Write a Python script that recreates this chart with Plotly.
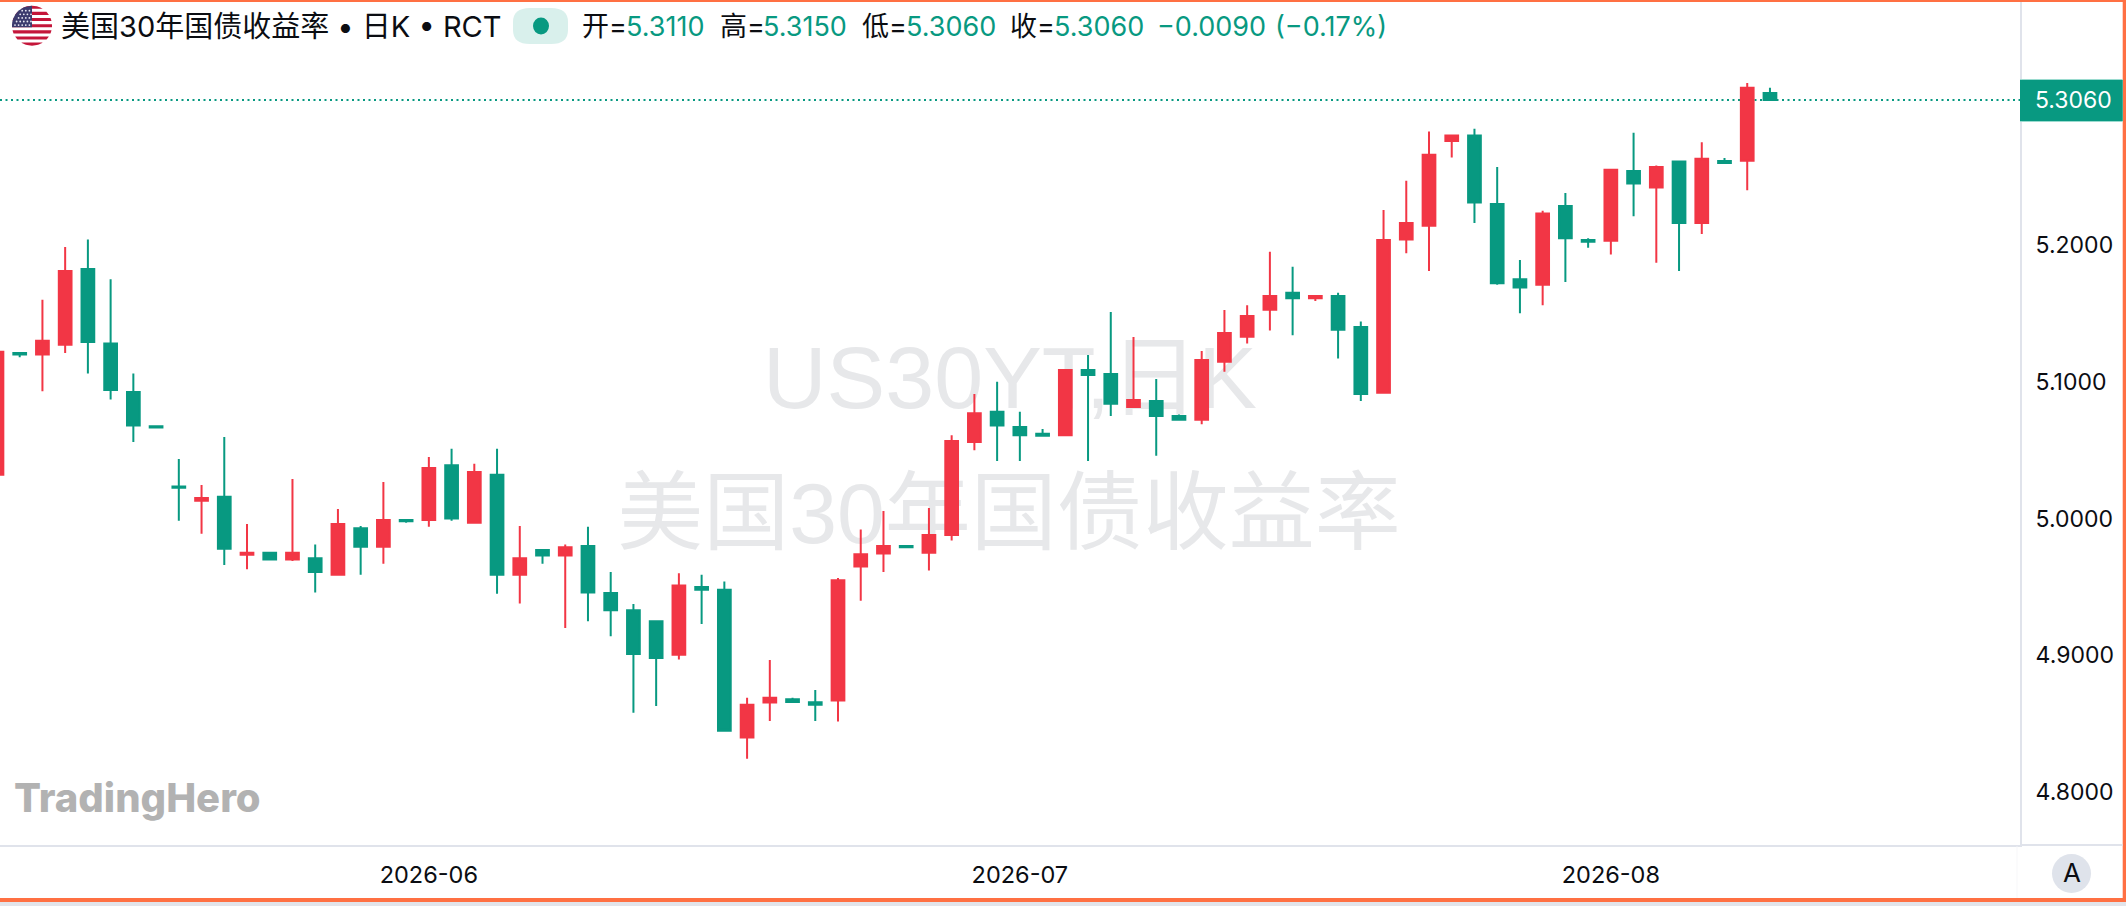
import numpy as np
import plotly.graph_objects as go

# ---------- data ----------
opens = [5.032,5.121,5.120,5.127,5.1825,5.128,5.0925,5.0675,5.0235,5.013,5.016,4.9735,4.975,4.970,4.971,4.959,4.993,4.9795,4.999,4.999,
         5.039,4.997,5.032,4.959,4.977,4.973,4.980,4.9456,4.933,4.925,4.9005,4.950,4.948,4.840,4.8655,4.868,4.8657,4.867,4.965,4.9744,
         4.980,4.975,4.988,5.056,5.078,5.067,5.062,5.061,5.1086,5.1057,5.0816,5.086,5.075,5.0723,5.1147,5.133,5.1527,5.165,5.161,5.1627,
         5.140,5.092,5.204,5.214,5.276,5.280,5.230,5.175,5.171,5.2285,5.2037,5.203,5.254,5.242,5.261,5.216,5.2614,5.2616,5.311]
highs = [5.122,5.121,5.160,5.1985,5.204,5.175,5.106,5.0675,5.0436,5.0246,5.0596,4.996,4.975,5.029,4.981,5.007,4.9946,5.0268,4.999,5.045,
         5.051,5.040,5.051,4.9946,4.977,4.981,4.994,4.961,4.9376,4.925,4.960,4.959,4.954,4.869,4.8966,4.869,4.8747,4.9566,4.992,5.0056,
         4.980,5.0077,5.061,5.091,5.100,5.078,5.0655,5.1086,5.1196,5.151,5.1327,5.102,5.076,5.1225,5.1525,5.156,5.195,5.184,5.1627,5.165,
         5.144,5.2256,5.247,5.283,5.280,5.285,5.257,5.189,5.225,5.238,5.205,5.255,5.282,5.258,5.261,5.275,5.2636,5.3184,5.315]
lows = [5.032,5.118,5.093,5.121,5.106,5.087,5.056,5.0665,4.9985,4.989,4.966,4.963,4.970,4.969,4.946,4.959,4.959,4.967,4.997,4.994,
        4.9985,4.997,4.945,4.938,4.967,4.920,4.925,4.914,4.858,4.863,4.897,4.923,4.845,4.8245,4.852,4.866,4.852,4.8516,4.940,4.961,
        4.979,4.962,4.984,5.050,5.042,5.042,5.060,5.061,5.042,5.075,5.081,5.046,5.0723,5.069,5.1074,5.128,5.1374,5.134,5.159,5.117,
        5.086,5.092,5.194,5.181,5.264,5.216,5.171,5.150,5.156,5.173,5.198,5.193,5.221,5.187,5.181,5.208,5.260,5.240,5.306]
closes = [5.122,5.120,5.130,5.181,5.129,5.094,5.068,5.0665,5.0225,5.015,4.978,4.975,4.970,4.975,4.961,4.996,4.9795,4.999,4.998,5.037,
          5.000,5.034,4.959,4.971,4.973,4.979,4.946,4.933,4.901,4.898,4.951,4.948,4.845,4.864,4.869,4.866,4.864,4.955,4.974,4.980,
          4.979,4.988,5.0567,5.077,5.068,5.061,5.0606,5.1086,5.105,5.084,5.0867,5.075,5.0723,5.116,5.1357,5.148,5.1627,5.161,5.1627,5.138,
          5.091,5.2037,5.216,5.266,5.280,5.231,5.172,5.169,5.223,5.205,5.2024,5.255,5.245,5.257,5.216,5.263,5.260,5.315,5.306]
bar_index = list(range(len(closes)))

price_ticks = [4.8, 4.9, 5.0, 5.1, 5.2]
month_ticks = [19, 45, 71]
month_labels = ["2026-06", "2026-07", "2026-08"]

title_text = "美国30年国债收益率 • 日K • RCT"
watermark_top = "US30YT,日K"
watermark_bottom = "美国30年国债收益率"
brand_text = "TradingHero"
ohlc_labels = ["开=", "高=", "低=", "收="]
ohlc_values = ["5.3110", "5.3150", "5.3060", "5.3060"]
change_text = "−0.0090"
change_pct_text = "(−0.17%)"

# ---------- styling ----------
UP, DOWN = "#F23645", "#089981"
BORDER = "#FF7043"
RULE = "#E0E3EB"
INK = "#0B0D12"
FONT = "Inter, Noto Sans CJK SC, sans-serif"
WM_FONT = "Liberation Sans, Noto Sans CJK SC, sans-serif"
W, H = 2126, 906
PL, PR, PT, PB = 0, 2020, 2, 845


def X(px):
    return (px - PL) / (PR - PL)


def Y(py):
    return (PB - py) / (PB - PT)


def rect(x0, y0, x1, y1, color, layer="above", **kw):
    return dict(type="rect", xref="paper", yref="paper", x0=X(x0), x1=X(x1), y0=Y(y0), y1=Y(y1),
                fillcolor=color, line_width=0, layer=layer, **kw)


def note(px, py, text, size=27, color=INK, anchor="left", family=FONT, weight=None):
    font = dict(size=size, color=color, family=family)
    if weight:
        font["weight"] = weight
    return dict(xref="paper", yref="paper", x=X(px), y=Y(py), text=text, showarrow=False,
                xanchor=anchor, yanchor="middle", borderpad=0, font=font)


shapes = [
    rect(0, 0, W, 2, BORDER),
    rect(0, 898, W, 902, BORDER),
    rect(2122.7, 0, W, 902, BORDER),
    rect(0, 902, W, H, "#E2E4EA"),
    rect(2020, 844, 2122.7, 846, RULE),
    rect(2016.6, 846, 2017.4, 898, "#F4F5F8"),
    # last price marker
    dict(type="line", xref="paper", yref="y2", x0=0, x1=1, y0=closes[-1], y1=closes[-1],
         line=dict(color=DOWN, width=2, dash="2px,3.5px"), layer="below"),
    rect(2020, 79, 2122.7, 122, "#9ADBCF"),
    rect(2020, 80, 2122.7, 121, DOWN),
    # status pill
    dict(type="path", xref="paper", yref="paper", fillcolor="#D9F0EC", line_width=0,
         path="M {} {} L {} {} Q {} {} {} {} L {} {} Q {} {} {} {} L {} {} Q {} {} {} {} L {} {} Q {} {} {} {} Z".format(
             X(530), Y(8), X(551), Y(8), X(568), Y(8), X(568), Y(22), X(568), Y(30), X(568), Y(44), X(551), Y(44),
             X(530), Y(44), X(513), Y(44), X(513), Y(30), X(513), Y(22), X(513), Y(8), X(530), Y(8))),
    dict(type="circle", xref="paper", yref="paper", x0=X(533), x1=X(549), y0=Y(17.5), y1=Y(34.5),
         fillcolor=DOWN, line_width=0),
    # scale badge
    dict(type="circle", xref="paper", yref="paper", x0=X(2052), x1=X(2091), y0=Y(854), y1=Y(893),
         fillcolor="#DFE3EB", line_width=0),
]

# flag badge
cx, cy, r = 32, 25.7, 20
band = 2 * r / 13


def poly(points):
    return "M " + " L ".join(f"{X(a):.6f} {Y(b):.6f}" for a, b in points) + " Z"


for k in range(0, 13, 2):
    ys = np.linspace(cy - r + k * band, cy - r + (k + 1) * band, 6)
    half = np.sqrt(np.maximum(r * r - (ys - cy) ** 2, 0))
    pts = list(zip(cx - half, ys)) + list(zip((cx + half)[::-1], ys[::-1]))
    shapes.append(dict(type="path", xref="paper", yref="paper", path=poly(pts),
                       fillcolor="#C4163A", line_width=0))
ys = np.linspace(cy - r, cy + 1.5, 24)
half = np.sqrt(np.maximum(r * r - (ys - cy) ** 2, 0))
shapes.append(dict(type="path", xref="paper", yref="paper",
                   path=poly(list(zip(cx - half, ys)) + [(cx, cy + 1.5), (cx, cy - r)]),
                   fillcolor="#3C3B6E", line_width=0))
for row in range(5):
    for col in range(5):
        sx = cx - 17 + col * 3.6 + (row % 2) * 1.6
        sy = cy - 15 + row * 3.6
        if (sx - cx) ** 2 + (sy - cy) ** 2 < (r - 2) ** 2 and sx < cx - 0.8:
            shapes.append(dict(type="circle", xref="paper", yref="paper", x0=X(sx - 0.9), x1=X(sx + 0.9),
                               y0=Y(sy - 0.9), y1=Y(sy + 0.9), fillcolor="#E8E8F2", line_width=0))

LY = 26.5
annotations = [
    note(60, LY, title_text, size=29),
    note(581, LY, ohlc_labels[0]), note(625, LY, ohlc_values[0], color=DOWN),
    note(719, LY, ohlc_labels[1]), note(762, LY, ohlc_values[1], color=DOWN),
    note(861, LY, ohlc_labels[2]), note(904.5, LY, ohlc_values[2], color=DOWN),
    note(1009, LY, ohlc_labels[3]), note(1052.5, LY, ohlc_values[3], color=DOWN),
    note(1156, LY, change_text, color=DOWN), note(1274, LY, change_pct_text, color=DOWN),
    note(2073.6, 100, f"{closes[-1]:.4f}", size=23, color="white", anchor="center"),
    note(2071.5, 873, "A", size=26, anchor="center"),
    note(137.5, 797, brand_text, size=40, color="#B2B2B2", anchor="center", weight=800),
]

fig = go.Figure()

# Watermarks live on the base axes (pixel scale) so the candles overlay them.
fig.add_trace(go.Scatter(
    x=[1010, 1009], y=[386, 521], mode="text", text=[watermark_top, watermark_bottom],
    textposition="middle center", hoverinfo="skip", showlegend=False,
    textfont=dict(size=[88, 86], color="#E7E8EA", family=WM_FONT),
    xaxis="x", yaxis="y"))

fig.add_trace(go.Candlestick(
    x=bar_index, open=opens, high=highs, low=lows, close=closes,
    increasing=dict(line=dict(color=UP, width=2), fillcolor=UP),
    decreasing=dict(line=dict(color=DOWN, width=2), fillcolor=DOWN),
    whiskerwidth=0, showlegend=False, xaxis="x2", yaxis="y2"))

fig.update_layout(
    width=W, height=H, autosize=False,
    margin=dict(l=PL, r=W - PR, t=PT, b=H - PB, pad=0),
    paper_bgcolor="white", plot_bgcolor="white",
    font=dict(family=FONT, color=INK),
    showlegend=False, hovermode=False, boxgap=0.2,
    shapes=shapes, annotations=annotations,
    xaxis=dict(range=[PL, PR], visible=False, fixedrange=True),
    yaxis=dict(range=[PB, PT], visible=False, fixedrange=True),
    xaxis2=dict(overlaying="x", anchor="y2", side="bottom", range=[0.1333, 89.0],
                rangeslider=dict(visible=False), showgrid=False, zeroline=False,
                tickmode="array", tickvals=month_ticks, ticktext=month_labels,
                ticks="outside", ticklen=8, tickcolor="rgba(0,0,0,0)",
                tickfont=dict(size=23.5, color=INK),
                showline=True, linecolor=RULE, linewidth=2),
    yaxis2=dict(overlaying="y", anchor="x2", side="right", range=[4.7614, 5.3776],
                showgrid=False, zeroline=False,
                tickmode="array", tickvals=price_ticks, tickformat=".4f",
                ticks="outside", ticklen=9, tickcolor="rgba(0,0,0,0)",
                tickfont=dict(size=23, color=INK),
                showline=True, linecolor=RULE, linewidth=2),
)

fig.write_html("out.html", config=dict(displayModeBar=False),
               post_script="document.body.style.margin='0';document.body.style.overflow='hidden';")
